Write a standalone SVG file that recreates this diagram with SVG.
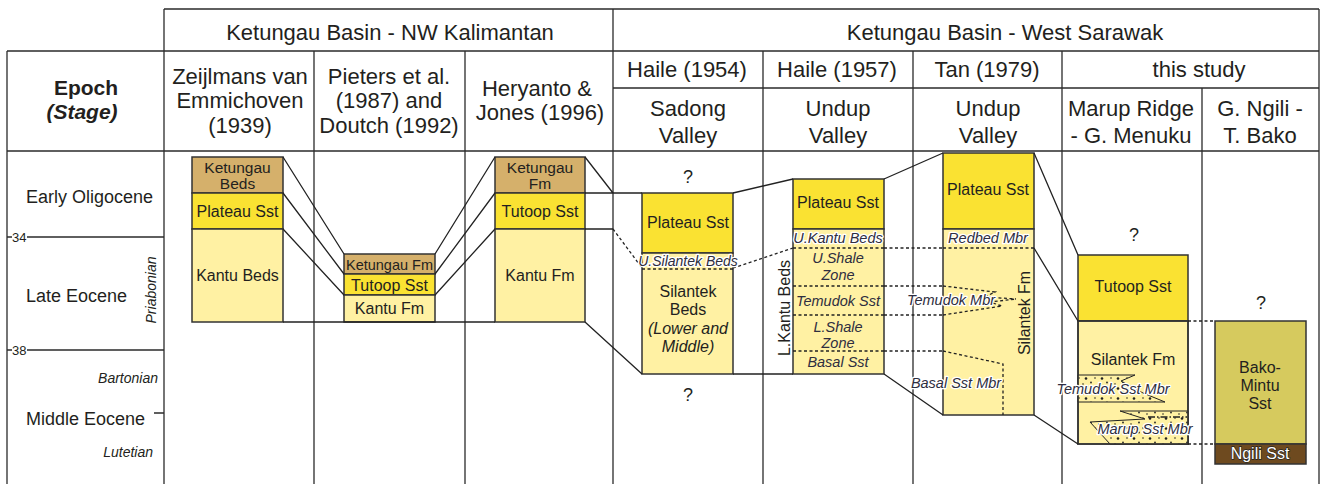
<svg xmlns="http://www.w3.org/2000/svg" width="1330" height="484" viewBox="0 0 1330 484">
<style>
.g{stroke:#2b2b2b;stroke-width:1.3;fill:none}
.gh{stroke:#2b2b2b;stroke-width:1.6;fill:none}
.b{stroke:#333;stroke-width:1.5}
.l{stroke:#222;stroke-width:1.3;fill:none}
.d{stroke:#222;stroke-width:1.3;stroke-dasharray:3 2.5;fill:none}
.kt{fill:#D5B06B}.py{fill:#FAE232}.pl{fill:#FFF1A3}.bk{fill:#D6CA5E}.ng{fill:#6E4A1F}
text{font-family:"Liberation Sans",Arial,Helvetica,sans-serif;fill:#231f20}
.h{font-size:22px;text-anchor:middle}
.e{font-size:18px}
.s{font-size:14px;font-style:italic}
.t{font-size:16px;text-anchor:middle}
.i{font-size:14.5px;font-style:italic;text-anchor:middle;fill:#2e2e40}
.halo{stroke:#fff;stroke-width:2.6;stroke-linejoin:round;paint-order:stroke}
.q{font-size:18px;text-anchor:middle}
.n{font-size:13px}
</style>
<defs>
<pattern id="sand" width="16" height="10" patternUnits="userSpaceOnUse">
<rect width="16" height="10" fill="#FFF1A3"/>
<circle cx="3" cy="2.5" r="0.9" fill="#222"/>
<circle cx="11" cy="4" r="0.8" fill="#222"/>
<circle cx="7" cy="8" r="0.8" fill="#222"/>
<circle cx="14" cy="8.5" r="1.3" fill="#222"/>
</pattern>
</defs>

<g id="grid">
<path class="gh" d="M164,9H1319M7,51H1319M613,88H1319M7,151H1319"/>
<path class="g" d="M7,51V484M164,9V484M314,51V484M465,51V484M613,9V484M763,51V484M913,51V484M1062,51V484M1202,88V484M1319,9V484"/>
<path class="g" d="M7,237H12M27,237H164M7,350H12M27,350H164M154,413H164"/>
</g>

<g id="header">
<text class="h" x="390" y="40">Ketungau Basin - NW Kalimantan</text>
<text class="h" x="1005" y="40">Ketungau Basin - West Sarawak</text>
<text x="86" y="95" style="font-size:21px;font-weight:bold;text-anchor:middle">Epoch</text>
<text x="82" y="119" style="font-size:21px;font-weight:bold;font-style:italic;text-anchor:middle">(Stage)</text>
<text class="h" x="240" y="84">Zeijlmans van</text>
<text class="h" x="240" y="108">Emmichoven</text>
<text class="h" x="240" y="133">(1939)</text>
<text class="h" x="389" y="84">Pieters et al.</text>
<text class="h" x="389" y="108">(1987) and</text>
<text class="h" x="389" y="133">Doutch (1992)</text>
<text class="h" x="537" y="96">Heryanto &amp;</text>
<text class="h" x="540" y="120">Jones (1996)</text>
<text class="h" x="687" y="77">Haile (1954)</text>
<text class="h" x="837" y="77">Haile (1957)</text>
<text class="h" x="987" y="77">Tan (1979)</text>
<text class="h" x="1199" y="77">this study</text>
<text class="h" x="688" y="116">Sadong</text>
<text class="h" x="688" y="143">Valley</text>
<text class="h" x="838" y="116">Undup</text>
<text class="h" x="838" y="143">Valley</text>
<text class="h" x="988" y="116">Undup</text>
<text class="h" x="988" y="143">Valley</text>
<text class="h" x="1131" y="116">Marup Ridge</text>
<text class="h" x="1131" y="143">- G. Menuku</text>
<text class="h" x="1260" y="116">G. Ngili -</text>
<text class="h" x="1260" y="143">T. Bako</text>
</g>

<g id="epochs">
<text class="e" x="26" y="203">Early Oligocene</text>
<text class="e" x="26" y="302">Late Eocene</text>
<text class="e" x="26" y="425">Middle Eocene</text>
<text class="n" x="12" y="242">34</text>
<text class="n" x="12" y="355">38</text>
<text class="s" transform="translate(156,290) rotate(-90)" text-anchor="middle">Priabonian</text>
<text class="s" x="158" y="383" text-anchor="end">Bartonian</text>
<text class="s" x="153" y="457" text-anchor="end">Lutetian</text>
</g>

<g id="col-zeijlmans">
<rect class="b kt" x="192" y="157" width="91" height="36"/>
<rect class="b py" x="192" y="193" width="91" height="36"/>
<rect class="b pl" x="192" y="229" width="91" height="93"/>
<text class="t" x="237.5" y="173" style="font-size:15.5px">Ketungau</text>
<text class="t" x="237.5" y="189" style="font-size:15.5px">Beds</text>
<text class="t" x="237.5" y="217">Plateau Sst</text>
<text class="t" x="237.5" y="281">Kantu Beds</text>
</g>

<g id="col-pieters">
<rect class="b kt" x="344" y="254" width="91" height="20"/>
<rect class="b py" x="344" y="274" width="91" height="21"/>
<rect class="b pl" x="344" y="295" width="91" height="27"/>
<text class="t" x="389.5" y="270" style="font-size:14.5px">Ketungau Fm</text>
<text class="t" x="389.5" y="291">Tutoop Sst</text>
<text class="t" x="389.5" y="314">Kantu Fm</text>
</g>

<g id="col-heryanto">
<rect class="b kt" x="495" y="157" width="90" height="36"/>
<rect class="b py" x="495" y="193" width="90" height="36"/>
<rect class="b pl" x="495" y="229" width="90" height="93"/>
<text class="t" x="540" y="173" style="font-size:15.5px">Ketungau</text>
<text class="t" x="540" y="189" style="font-size:15.5px">Fm</text>
<text class="t" x="540" y="217">Tutoop Sst</text>
<text class="t" x="540" y="281">Kantu Fm</text>
</g>

<g id="col-haile1954">
<rect class="b py" x="642" y="193" width="91" height="60"/>
<rect class="b pl" x="642" y="253" width="91" height="121"/>
<path class="d" d="M642,269H733"/>
<text class="q" x="688" y="183">?</text>
<text class="t" x="688" y="228">Plateau Sst</text>
<text class="t" x="688" y="297">Silantek</text>
<text class="t" x="688" y="315">Beds</text>
<text class="t" x="688" y="334" font-style="italic">(Lower and</text>
<text class="t" x="688" y="352" font-style="italic">Middle)</text>
<text class="q" x="688" y="401">?</text>
</g>

<g id="col-haile1957">
<rect class="b py" x="793" y="179" width="91" height="50"/>
<rect class="b pl" x="793" y="229" width="91" height="145"/>
<path class="d" d="M793,248H884M793,286H884M793,315H884M793,351H884"/>
<text class="t" x="838" y="208">Plateau Sst</text>
<text class="i" x="838" y="263">U.Shale</text>
<text class="i" x="838" y="280">Zone</text>
<text class="i" x="838" y="306">Temudok Sst</text>
<text class="i" x="838" y="332">L.Shale</text>
<text class="i" x="838" y="348">Zone</text>
<text class="i" x="838" y="367">Basal Sst</text>
<text class="t" transform="translate(790,308) rotate(-90)">L.Kantu Beds</text>
</g>

<g id="col-tan">
<rect class="b py" x="943" y="153" width="91" height="76"/>
<rect class="b pl" x="943" y="229" width="91" height="186"/>
<path class="d" d="M943,248H1034"/>
<path class="d" d="M943,286L995,292L985,297L1016,299M943,315L1002,306L990,302L1016,299"/>
<path class="d" d="M943,351L1003,364V415"/>
<text class="t" x="988" y="195">Plateau Sst</text>
<text class="t" transform="translate(1030,313) rotate(-90)" textLength="84" lengthAdjust="spacingAndGlyphs">Silantek Fm</text>
</g>

<g id="col-marup">
<rect class="b py" x="1078" y="255" width="110" height="66"/>
<rect class="b pl" x="1078" y="321" width="110" height="123"/>
<path d="M1078,375H1135L1121,381L1143,393L1165,402H1078Z" fill="url(#sand)" stroke="#222" stroke-width="1"/>
<path d="M1188,411H1120L1145,419L1090,422L1110,444H1188Z" fill="url(#sand)" stroke="#222" stroke-width="1"/>
<path d="M1148,417H1187" stroke="#222" stroke-width="1.5" stroke-dasharray="7 2 1.5 2" fill="none"/>
<rect x="1078" y="321" width="110" height="123" fill="none" stroke="#333" stroke-width="1.5"/>
<text class="q" x="1134" y="241">?</text>
<text class="t" x="1133" y="292">Tutoop Sst</text>
<text class="t" x="1133" y="365">Silantek Fm</text>
</g>

<g id="col-bako">
<rect class="b bk" x="1215" y="321" width="91" height="123"/>
<rect class="b ng" x="1215" y="444" width="91" height="20"/>
<text class="q" x="1261" y="309">?</text>
<text class="t" x="1260" y="373">Bako-</text>
<text class="t" x="1260" y="391">Mintu</text>
<text class="t" x="1260" y="409">Sst</text>
<text class="t" x="1260" y="459" style="fill:#fff;stroke:#222;stroke-width:1.3;paint-order:stroke">Ngili Sst</text>
</g>

<g id="connectors">
<path class="l" d="M283,157L344,254M283,193L344,274M283,229L344,295M283,322H495"/>
<path class="l" d="M435,254L495,157M435,274L495,193M435,295L495,229"/>
<path class="l" d="M585,157L613,193H642M585,193H613M585,229H613M585,322L642,374"/>
<path class="l" d="M733,374H793M733,193L793,179"/>
<path class="l" d="M884,179L943,153M884,374L943,415"/>
<path class="l" d="M1034,153L1078,255M1034,248L1078,321M1034,415L1078,444"/>
<path class="d" d="M613,229L642,268M733,268L793,248"/>
<path class="d" d="M884,248H943M884,286H943M884,315H943M884,351H943"/>
<path class="d" d="M1188,321H1215M1188,444H1215"/>
</g>

<g id="labels">
<text class="i halo" x="688" y="266" style="font-size:14px">U.Silantek Beds</text>
<text class="i halo" x="838" y="243">U.Kantu Beds</text>
<text class="i halo" x="988" y="243">Redbed Mbr</text>
<text class="i halo" x="951" y="305">Temudok Mbr</text>
<text class="i halo" x="956" y="388">Basal Sst Mbr</text>
<text class="i halo" x="1113" y="394">Temudok Sst Mbr</text>
<text class="i halo" x="1145" y="434">Marup Sst Mbr</text>
</g>
</svg>
